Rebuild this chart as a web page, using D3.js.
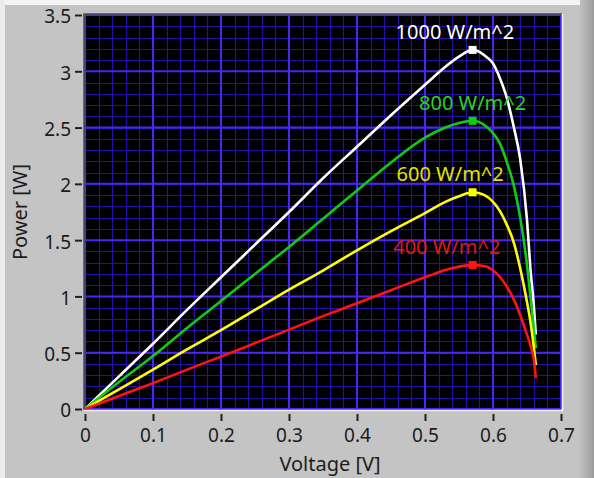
<!DOCTYPE html>
<html>
<head>
<meta charset="utf-8">
<script src="https://cdn.jsdelivr.net/npm/d3@7"></script>
<style>
  html, body { margin: 0; padding: 0; background: #c4c4c4; }
  svg { display: block; }
  .tick-label { font-family: "Noto Sans", sans-serif; font-size: 19px; fill: #1c1c1c; }
  .axis-title { font-family: "Noto Sans", sans-serif; font-size: 20px; fill: #1c1c1c; }
  .curve-label { font-family: "Noto Sans", sans-serif; font-size: 20px; }
</style>
</head>
<body>
<div id="chart"></div>
<script>
// Voltage samples (V), shared by all four curves
const voltage = [0, 0.05, 0.1, 0.15, 0.2, 0.25, 0.3, 0.35, 0.4, 0.45, 0.5, 0.53, 0.55, 0.57,
                 0.59, 0.6, 0.61, 0.62, 0.63, 0.64, 0.65, 0.655, 0.66, 0.663];

// Power (W), one list per irradiance
const power1000 = [0, 0.29, 0.58, 0.88, 1.17, 1.46, 1.75, 2.05, 2.33, 2.61, 2.88, 3.04, 3.13, 3.19,
                   3.13, 3.07, 2.94, 2.77, 2.52, 2.22, 1.68, 1.25, 0.92, 0.66];
const power800  = [0, 0.24, 0.47, 0.72, 0.96, 1.2, 1.44, 1.69, 1.94, 2.19, 2.41, 2.5, 2.54, 2.56,
                   2.51, 2.45, 2.36, 2.2, 2.0, 1.7, 1.28, 1.0, 0.72, 0.54];
const power600  = [0, 0.175, 0.35, 0.53, 0.7, 0.88, 1.06, 1.23, 1.41, 1.58, 1.74, 1.84, 1.89, 1.925,
                   1.89, 1.84, 1.76, 1.64, 1.49, 1.25, 0.95, 0.78, 0.55, 0.39];
const power400  = [0, 0.115, 0.23, 0.35, 0.465, 0.585, 0.705, 0.825, 0.94, 1.055, 1.17, 1.235, 1.265, 1.28,
                   1.265, 1.23, 1.175, 1.09, 0.98, 0.835, 0.66, 0.565, 0.44, 0.275];

const seriesNames = ['1000 W/m^2', '800 W/m^2', '600 W/m^2', '400 W/m^2'];
const seriesPower = [power1000, power800, power600, power400];
// maximum power point of each curve (V, W) and where its label sits (V)
const peakV = [0.57, 0.57, 0.57, 0.57];
const peakP = [3.19, 2.56, 1.925, 1.28];
const labelV = [0.544, 0.57, 0.537, 0.532];

const xTicks = [0, 0.1, 0.2, 0.3, 0.4, 0.5, 0.6, 0.7];
const yTicks = [0, 0.5, 1, 1.5, 2, 2.5, 3, 3.5];

const lineColors = ['#ffffff', '#12cc12', '#ffff00', '#ff1414'];
const labelColors = ['#ffffff', '#2ad22a', '#e2e200', '#dc1a1a'];

const W = 594, H = 478;
const plot = { left: 85, right: 561, top: 15, bottom: 409 };

const svg = d3.select('#chart').append('svg')
    .attr('width', W)
    .attr('height', H);

// panel background with light top/left edge and darker right strip
const defs = svg.append('defs');
const grad = defs.append('linearGradient').attr('id', 'edge');
grad.append('stop').attr('offset', '0%').attr('stop-color', '#c0c0c0');
grad.append('stop').attr('offset', '100%').attr('stop-color', '#9c9c9c');

svg.append('rect').attr('width', W).attr('height', H).attr('fill', '#c4c4c4');
svg.append('rect').attr('width', 580).attr('height', 5).attr('fill', '#f4f4f4');
svg.append('rect').attr('width', 5).attr('height', H).attr('fill', '#ececec');
svg.append('rect').attr('x', 580).attr('width', 14).attr('height', H).attr('fill', 'url(#edge)');

const x = d3.scaleLinear().domain([0, 0.7]).range([plot.left, plot.right]);
const y = d3.scaleLinear().domain([0, 3.5]).range([plot.bottom, plot.top]);

// plot area
svg.append('rect')
    .attr('x', plot.left).attr('y', plot.top)
    .attr('width', plot.right - plot.left).attr('height', plot.bottom - plot.top)
    .attr('fill', '#000000');

const grid = svg.append('g');
const minorX = d3.range(0, 0.7001, 0.02);
const minorY = d3.range(0, 3.5001, 0.1);

grid.selectAll('.minor-x').data(minorX).join('line')
    .attr('x1', d => Math.round(x(d)) + 0.5).attr('x2', d => Math.round(x(d)) + 0.5)
    .attr('y1', plot.top).attr('y2', plot.bottom)
    .attr('stroke', '#2410a6').attr('stroke-width', 1.2);
grid.selectAll('.minor-y').data(minorY).join('line')
    .attr('y1', d => Math.round(y(d)) + 0.5).attr('y2', d => Math.round(y(d)) + 0.5)
    .attr('x1', plot.left).attr('x2', plot.right)
    .attr('stroke', '#2410a6').attr('stroke-width', 1.2);

grid.selectAll('.major-x').data(xTicks).join('line')
    .attr('x1', d => x(d)).attr('x2', d => x(d))
    .attr('y1', plot.top).attr('y2', plot.bottom)
    .attr('stroke', '#4a26f2').attr('stroke-width', 2);
grid.selectAll('.major-y').data(yTicks).join('line')
    .attr('y1', d => y(d)).attr('y2', d => y(d))
    .attr('x1', plot.left).attr('x2', plot.right)
    .attr('stroke', '#4a26f2').attr('stroke-width', 2);

// sunken frame
svg.append('path')
    .attr('d', `M${plot.left - 1},${plot.bottom + 1}V${plot.top - 1}H${plot.right + 1}`)
    .attr('fill', 'none').attr('stroke', '#4a4a4a').attr('stroke-width', 1.5);
svg.append('path')
    .attr('d', `M${plot.right + 1.5},${plot.top - 1}V${plot.bottom + 1.5}H${plot.left - 1}`)
    .attr('fill', 'none').attr('stroke', '#f2f2f2').attr('stroke-width', 1.5);

// axes
const xAxis = d3.axisBottom(x).tickValues(xTicks).tickSize(7).tickPadding(8)
    .tickFormat(d => d3.format('')(+d.toFixed(1)));
const gx = svg.append('g').attr('transform', `translate(0,${plot.bottom + 5})`).call(xAxis);
gx.select('.domain').remove();
gx.selectAll('.tick line').attr('stroke', '#202020').attr('stroke-width', 2);
gx.selectAll('.tick text').attr('class', 'tick-label').attr('fill', null);

const yAxis = d3.axisLeft(y).tickValues(yTicks).tickSize(7).tickPadding(4)
    .tickFormat(d => d3.format('')(+d.toFixed(1)));
const gy = svg.append('g').attr('transform', `translate(${plot.left - 3},0)`).call(yAxis);
gy.select('.domain').remove();
gy.selectAll('.tick line').attr('stroke', '#202020').attr('stroke-width', 2);
gy.selectAll('.tick text').attr('class', 'tick-label').attr('fill', null).attr('dy', '0.42em');

svg.append('text')
    .attr('class', 'axis-title')
    .attr('x', (plot.left + plot.right) / 2 + 7)
    .attr('y', 471)
    .attr('text-anchor', 'middle')
    .text('Voltage [V]');

svg.append('text')
    .attr('class', 'axis-title')
    .attr('transform', `translate(27,${(plot.top + plot.bottom) / 2}) rotate(-90)`)
    .attr('text-anchor', 'middle')
    .text('Power [W]');

// curves
const clip = defs.append('clipPath').attr('id', 'plot-clip');
clip.append('rect')
    .attr('x', plot.left).attr('y', plot.top)
    .attr('width', plot.right - plot.left).attr('height', plot.bottom - plot.top);

const line = d3.line()
    .x(d => x(d[0]))
    .y(d => y(d[1]))
    .curve(d3.curveMonotoneX);

const curves = svg.append('g').attr('clip-path', 'url(#plot-clip)');
seriesPower.forEach((p, i) => {
    const pts = voltage.map((v, k) => [v, p[k]]);
    curves.append('path')
        .attr('d', line(pts))
        .attr('fill', 'none')
        .attr('stroke', lineColors[i])
        .attr('stroke-width', 2.6)
        .attr('stroke-linejoin', 'round');

    curves.append('rect')
        .attr('x', x(peakV[i]) - 4).attr('y', y(peakP[i]) - 4)
        .attr('width', 8).attr('height', 8)
        .attr('fill', lineColors[i]);

    curves.append('text')
        .attr('class', 'curve-label')
        .attr('x', x(labelV[i]))
        .attr('y', y(peakP[i]) - 11)
        .attr('text-anchor', 'middle')
        .attr('fill', labelColors[i])
        .text(seriesNames[i]);
});
</script>
</body>
</html>
